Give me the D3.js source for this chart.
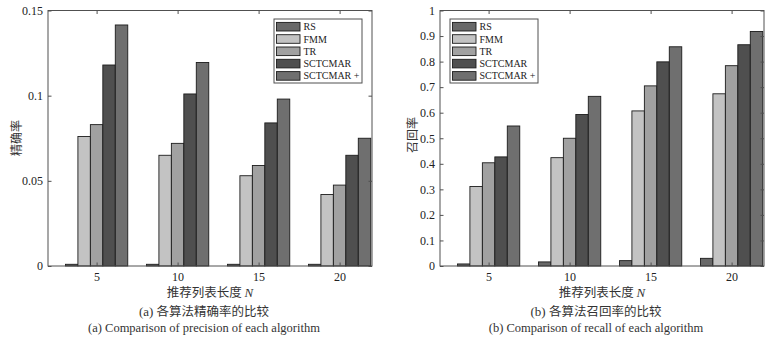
<!DOCTYPE html>
<html>
<head>
<meta charset="utf-8">
<script src="https://cdn.jsdelivr.net/npm/d3@7"></script>
<style>
  html, body { margin: 0; padding: 0; background: #fff; }
  svg { display: block; }
  .serif { font-family: "Liberation Serif", "Times New Roman", serif; }
  .cjk { font-family: "Noto Sans CJK SC", sans-serif; }
</style>
</head>
<body>
<svg id="fig" width="779" height="340"></svg>
<script>
// list lengths N and algorithms
const listLengths = [5, 10, 15, 20];
const algorithms = ['RS', 'FMM', 'TR', 'SCTCMAR', 'SCTCMAR +'];

// precision values, one row per algorithm
const precisionValues = [
    [0.001, 0.001, 0.001, 0.001],
    [0.076, 0.065, 0.053, 0.042],
    [0.083, 0.072, 0.059, 0.0475],
    [0.118, 0.101, 0.084, 0.065],
    [0.1415, 0.1195, 0.098, 0.075]
];

// recall values, one row per algorithm
const recallValues = [
    [0.008, 0.016, 0.021, 0.03],
    [0.311, 0.424, 0.607, 0.674],
    [0.404, 0.50, 0.705, 0.784],
    [0.427, 0.593, 0.799, 0.866],
    [0.548, 0.664, 0.858, 0.918]
];

const precisionTicks = [0, 0.05, 0.1, 0.15];
const recallTicks = [0, 0.1, 0.2, 0.3, 0.4, 0.5, 0.6, 0.7, 0.8, 0.9, 1];

const seriesColors = ['#686868', '#c3c3c3', '#a1a1a1', '#4f4f4f', '#6f6f6f'];

const svg = d3.select('#fig');

function drawPanel(opts) {
    const { left, right, top, bottom, values, yMax, yTicks, yLabel, yLabelX, yLabelY,
            legendX, capCn, capEn, capX } = opts;
    const g = svg.append('g');

    const x = d3.scaleLinear().domain([2, 22]).range([left, right]);
    const y = d3.scaleLinear().domain([0, yMax]).range([bottom, top]);

    // each group is 0.769 of the spacing between N values, bars touch
    const groupW = (x(10) - x(5)) * 5 / 6.5;
    const inner = d3.scaleBand().domain(algorithms).range([-groupW / 2, groupW / 2]).padding(0);

    // bars
    algorithms.forEach((alg, i) => {
        g.selectAll(null)
            .data(listLengths.map((n, j) => ({ n, v: values[i][j] })))
            .enter()
            .append('rect')
            .attr('x', d => x(d.n) + inner(alg))
            .attr('y', d => y(d.v))
            .attr('width', inner.bandwidth())
            .attr('height', d => y(0) - y(d.v))
            .attr('fill', seriesColors[i])
            .attr('stroke', '#1c1c1c')
            .attr('stroke-width', 0.9);
    });

    // box
    g.append('rect')
        .attr('x', left).attr('y', top)
        .attr('width', right - left).attr('height', bottom - top)
        .attr('fill', 'none').attr('stroke', '#505050').attr('stroke-width', 1);

    const tickLen = 3.5;
    // axes with inward ticks on all four sides
    const axB = d3.axisBottom(x).tickValues(listLengths).tickSize(-tickLen).tickPadding(6);
    const axT = d3.axisTop(x).tickValues(listLengths).tickSize(-tickLen).tickFormat('');
    const axL = d3.axisLeft(y).tickValues(yTicks).tickSize(-tickLen).tickPadding(5)
        .tickFormat(d => String(+d.toFixed(2)));
    const axR = d3.axisRight(y).tickValues(yTicks).tickSize(-tickLen).tickFormat('');

    [[axB, `translate(0,${bottom})`], [axT, `translate(0,${top})`],
     [axL, `translate(${left},0)`], [axR, `translate(${right},0)`]].forEach(([ax, tr]) => {
        const a = g.append('g').attr('transform', tr).call(ax);
        a.select('.domain').remove();
        a.selectAll('line').attr('stroke', '#505050');
        a.selectAll('text')
            .attr('class', 'serif')
            .style('font-size', '12px')
            .attr('fill', '#222');
    });

    // legend
    const lg = g.append('g').attr('transform', `translate(${legendX},19)`);
    lg.append('rect')
        .attr('x', 0).attr('y', 0).attr('width', 88).attr('height', 64)
        .attr('fill', '#fff').attr('stroke', '#505050').attr('stroke-width', 1);
    algorithms.forEach((alg, i) => {
        const cy = 7.7 + i * 12.3;
        lg.append('rect')
            .attr('x', 2.5).attr('y', cy - 4.3).attr('width', 23.5).attr('height', 8.6)
            .attr('fill', seriesColors[i]).attr('stroke', '#1c1c1c').attr('stroke-width', 0.9);
        lg.append('text')
            .attr('class', 'serif')
            .attr('x', 29.5).attr('y', cy + 3.5)
            .style('font-size', '10px').attr('fill', '#222')
            .text(alg);
    });

    // y label
    g.append('text')
        .attr('class', 'cjk')
        .attr('transform', `translate(${yLabelX},${yLabelY}) rotate(-90)`)
        .attr('text-anchor', 'middle').attr('dominant-baseline', 'central')
        .style('font-size', '12px').attr('fill', '#333')
        .text(yLabel);

    // x label
    const xl = g.append('text')
        .attr('x', (left + right) / 2).attr('y', 297)
        .attr('text-anchor', 'middle').style('font-size', '12.5px').attr('fill', '#333');
    xl.append('tspan').attr('class', 'cjk').text('推荐列表长度 ');
    xl.append('tspan').attr('class', 'serif').style('font-style', 'italic').style('font-size', '13px').text('N');

    // captions
    const c1 = g.append('text')
        .attr('x', capX).attr('y', 316)
        .attr('text-anchor', 'middle').style('font-size', '12.5px').attr('fill', '#333');
    c1.append('tspan').attr('class', 'serif').style('font-size', '13px').text(capCn[0] + ' ');
    c1.append('tspan').attr('class', 'cjk').text(capCn[1]);

    g.append('text')
        .attr('class', 'serif')
        .attr('x', capX).attr('y', 331.5)
        .attr('text-anchor', 'middle').style('font-size', '12.5px').attr('fill', '#333')
        .text(capEn);
}

drawPanel({
    left: 48, right: 372, top: 10.5, bottom: 266,
    values: precisionValues, yMax: 0.15, yTicks: precisionTicks,
    yLabel: '精确率', yLabelX: 15.5, yLabelY: 138,
    legendX: 274,
    capCn: ['(a)', '各算法精确率的比较'],
    capEn: '(a) Comparison of precision of each algorithm',
    capX: 204
});

drawPanel({
    left: 440, right: 764, top: 10.5, bottom: 266,
    values: recallValues, yMax: 1, yTicks: recallTicks,
    yLabel: '召回率', yLabelX: 411.5, yLabelY: 135,
    legendX: 450,
    capCn: ['(b)', '各算法召回率的比较'],
    capEn: '(b) Comparison of recall of each algorithm',
    capX: 596
});
</script>
</body>
</html>
